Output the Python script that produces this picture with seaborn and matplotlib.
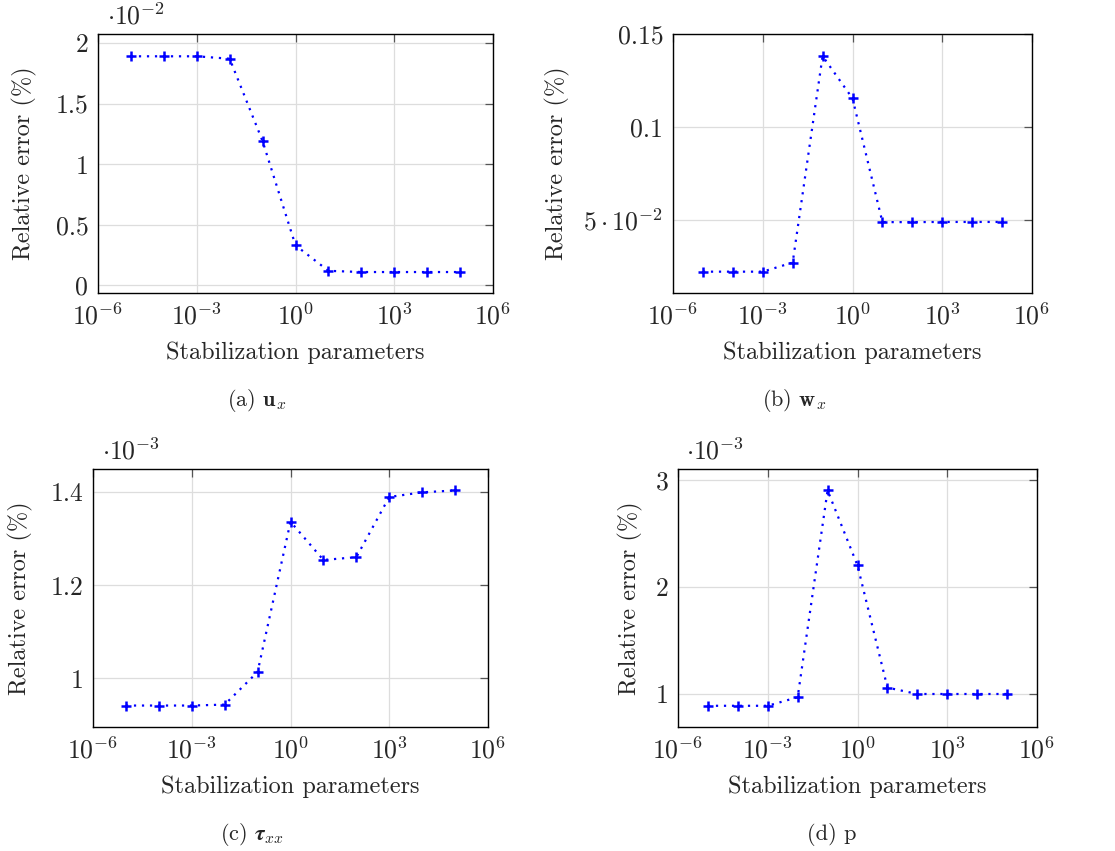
import numpy as np
import pandas as pd
import matplotlib
matplotlib.use("Agg")
import matplotlib.pyplot as plt
from matplotlib.ticker import NullLocator, FixedLocator, FixedFormatter
import seaborn as sns

# ---------------- data ----------------
stab_params = [1e-5, 1e-4, 1e-3, 1e-2, 1e-1, 1e0, 1e1, 1e2, 1e3, 1e4, 1e5]

# values as displayed on each axis (before the axis multiplier)
err_ux = [1.89, 1.89, 1.89, 1.87, 1.19, 0.33, 0.12, 0.11, 0.11, 0.11, 0.11]        # x 1e-2
err_wx = [0.0219, 0.0219, 0.0219, 0.0268, 0.1381, 0.1153, 0.0486, 0.0486, 0.0487, 0.0487, 0.0487]
err_tau = [0.942, 0.942, 0.942, 0.944, 1.014, 1.336, 1.254, 1.260, 1.389, 1.399, 1.403]  # x 1e-3
err_p = [0.89, 0.89, 0.89, 0.97, 2.90, 2.20, 1.06, 1.00, 1.00, 1.00, 1.00]           # x 1e-3

x_ticks = [1e-6, 1e-3, 1e0, 1e3, 1e6]
x_tick_labels = [r"$10^{-6}$", r"$10^{-3}$", r"$10^{0}$", r"$10^{3}$", r"$10^{6}$"]

panels = [
    dict(vals=err_ux, yticks=[0, 0.5, 1, 1.5, 2], ylabels=["0", "0.5", "1", "1.5", "2"],
         ylim=(-0.063, 2.074), mult=r"$\cdot 10^{-2}$", caption=r"(a) $\mathbf{u}_x$"),
    dict(vals=err_wx, yticks=[0.05, 0.1, 0.15], ylabels=[r"$5\cdot 10^{-2}$", "0.1", "0.15"],
         ylim=(0.0104, 0.150), mult=None, caption=r"(b) $\mathbf{w}_x$"),
    dict(vals=err_tau, yticks=[1.0, 1.2, 1.4], ylabels=["1", "1.2", "1.4"],
         ylim=(0.896, 1.449), mult=r"$\cdot 10^{-3}$", caption=r"(c) $\boldsymbol{\tau}_{xx}$"),
    dict(vals=err_p, yticks=[1, 2, 3], ylabels=["1", "2", "3"],
         ylim=(0.692, 3.10), mult=r"$\cdot 10^{-3}$", caption=r"(d) p"),
]

# ---------------- style ----------------
sns.set_style("white")
plt.rcParams["font.family"] = ["cmr10", "DejaVu Serif"]
plt.rcParams["mathtext.fontset"] = "cm"
plt.rcParams["axes.formatter.use_mathtext"] = True
plt.rcParams["axes.unicode_minus"] = False

W, H = 1115, 851
fig = plt.figure(figsize=(W / 100, H / 100), dpi=100)

# axes boxes in pixels: left, top, right, bottom
boxes = [(98, 34, 493, 293), (673, 34, 1032, 293), (93, 469, 488, 727), (678, 469, 1037, 727)]
ylabel_x = [24, 557, 20, 630]
mult_x = [107, None, 102, 686]
captions_xy = [(257, 400), (794, 400), (252, 835), (832, 834)]

for i, (p, (l, t, r, b)) in enumerate(zip(panels, boxes)):
    ax = fig.add_axes([l / W, 1 - b / H, (r - l) / W, (b - t) / H])
    df = pd.DataFrame({"x": stab_params, "y": p["vals"]})
    sns.lineplot(data=df, x="x", y="y", ax=ax, color=(0, 0, 1), linewidth=1.6,
                 linestyle=(0, (1, 2.6)), marker="+", markersize=7, markeredgewidth=1.8,
                 markeredgecolor=(0, 0, 1))
    ax.set_xscale("log")
    ax.set_xlim(1e-6, 1e6)
    ax.set_ylim(*p["ylim"])
    ax.xaxis.set_major_locator(FixedLocator(x_ticks))
    ax.xaxis.set_major_formatter(FixedFormatter(x_tick_labels))
    ax.xaxis.set_minor_locator(NullLocator())
    ax.yaxis.set_major_locator(FixedLocator(p["yticks"]))
    ax.yaxis.set_major_formatter(FixedFormatter(p["ylabels"]))
    ax.yaxis.set_minor_locator(NullLocator())
    ax.grid(True, color="#dddddd", linewidth=0.9)
    ax.set_axisbelow(True)
    for s in ax.spines.values():
        s.set_color("black")
        s.set_linewidth(1.0)
    ax.tick_params(direction="in", length=6, width=0.9, color="#555555",
                   top=True, right=True, labelsize=18.5, pad=7)
    ax.set_xlabel("Stabilization parameters", fontsize=17.5)
    ax.xaxis.label.set_va("center")
    ax.xaxis.set_label_coords(0.5, -60 / (b - t))
    ax.set_ylabel("Relative error (%)", fontsize=17.5)
    ax.yaxis.label.set_va("center")
    ax.yaxis.set_label_coords((ylabel_x[i] - l) / (r - l), 0.5)
    if p["mult"]:
        ax.text((mult_x[i] - l) / (r - l), 1 + 18 / (b - t), p["mult"], transform=ax.transAxes,
                ha="left", va="center", fontsize=18.5)
    cx, cy = captions_xy[i]
    fig.text(cx / W, 1 - cy / H, p["caption"], ha="center", va="center", fontsize=16)

fig.savefig("out.png", dpi=100, facecolor="white")
